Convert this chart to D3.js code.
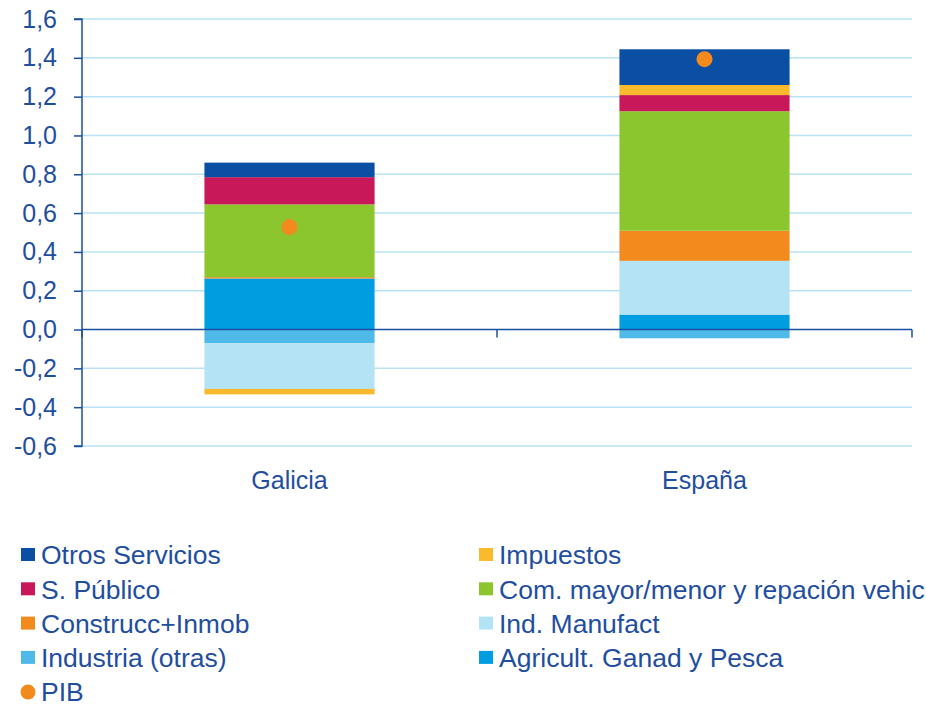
<!DOCTYPE html>
<html>
<head>
<meta charset="utf-8">
<script src="https://cdn.jsdelivr.net/npm/d3@7"></script>
<style>
  body { margin: 0; background: #fff; }
  text { font-family: "Liberation Sans", Arial, sans-serif; fill: #1f4e9f; }
</style>
</head>
<body>
<div id="chart"></div>
<script>
const regions = ["Galicia", "España"];
const sectors = ["Agricult. Ganad y Pesca", "Industria (otras)", "Ind. Manufact", "Construcc+Inmob",
                 "Com. mayor/menor y repación vehic", "S. Público", "Impuestos", "Otros Servicios"];
const galicia = [0.263, -0.07, -0.236, 0.007, 0.375, 0.14, -0.028, 0.075];
const espana  = [0.077, -0.045, 0.277, 0.155, 0.616, 0.083, 0.052, 0.184];
const pib = [0.528, 1.393];
const yTicks = [-0.6, -0.4, -0.2, 0, 0.2, 0.4, 0.6, 0.8, 1.0, 1.2, 1.4, 1.6];
const legendOrder = ["Otros Servicios", "Impuestos", "S. Público", "Com. mayor/menor y repación vehic",
                     "Construcc+Inmob", "Ind. Manufact", "Industria (otras)", "Agricult. Ganad y Pesca"];

const colors = {
  "Agricult. Ganad y Pesca": "#009de0",
  "Industria (otras)": "#4fb9ea",
  "Ind. Manufact": "#b5e3f6",
  "Construcc+Inmob": "#f28a1e",
  "Com. mayor/menor y repación vehic": "#8bc62f",
  "S. Público": "#c8185a",
  "Impuestos": "#fbb92c",
  "Otros Servicios": "#0a4fa3"
};

const W = 926, H = 707;
const margin = {top: 19, right: 14, bottom: 261, left: 82};
const width = W - margin.left - margin.right,
      height = H - margin.top - margin.bottom;

const svg = d3.select("#chart").append("svg")
  .attr("width", W).attr("height", H);
const g = svg.append("g").attr("transform", `translate(${margin.left},${margin.top})`);

const x = d3.scaleBand().domain(regions).range([0, width]).paddingInner(0.59).paddingOuter(0.295);
const xOuter = d3.scaleBand().domain(regions).range([0, width]);
const y = d3.scaleLinear().domain([-0.6, 1.6]).range([height, 0]);

// data table
const table = regions.map((r, i) => {
  const row = {region: r};
  const vals = i === 0 ? galicia : espana;
  sectors.forEach((s, j) => row[s] = vals[j]);
  return row;
});

// gridlines
g.selectAll(".grid").data(yTicks.filter(d => d !== 0)).join("line")
  .attr("x1", 0).attr("x2", width)
  .attr("y1", d => y(d)).attr("y2", d => y(d))
  .attr("stroke", "#b8e2f4").attr("stroke-width", 1.5);

// stacked bars
const series = d3.stack().keys(sectors).offset(d3.stackOffsetDiverging)(table);
g.selectAll(".layer").data(series).join("g")
  .attr("fill", d => colors[d.key])
  .selectAll("rect").data(d => d).join("rect")
  .attr("x", d => x(d.data.region))
  .attr("width", x.bandwidth())
  .attr("y", d => y(Math.max(d[0], d[1])))
  .attr("height", d => Math.abs(y(d[0]) - y(d[1])));

// y axis
const yAxis = g.append("g")
  .call(d3.axisLeft(y).tickValues(yTicks).tickSize(8).tickPadding(17)
    .tickFormat(d => d3.format(".1f")(d).replace(".", ",").replace("−", "-")));
yAxis.select(".domain").attr("stroke", "#1a4fa0").attr("stroke-width", 1.5)
  .attr("d", `M-8,${y(1.6)}H0V${y(-0.6)}H-8`);
yAxis.selectAll(".tick line").attr("stroke", "#1a4fa0").attr("stroke-width", 1.5);
yAxis.selectAll(".tick text").style("font-size", "25px").attr("fill", "#1f4e9f")
  .style("font-family", "Liberation Sans, Arial, sans-serif");

// zero line with category ticks
g.append("line").attr("x1", 0).attr("x2", width)
  .attr("y1", y(0)).attr("y2", y(0))
  .attr("stroke", "#1a4fa0").attr("stroke-width", 1.5);
const bounds = [0, ...regions.map(r => xOuter(r) + xOuter.bandwidth())];
g.selectAll(".xtick").data(bounds).join("line")
  .attr("x1", d => d).attr("x2", d => d)
  .attr("y1", y(0)).attr("y2", y(0) + 8)
  .attr("stroke", "#1a4fa0").attr("stroke-width", 1.5);

// category labels
g.selectAll(".cat").data(regions).join("text")
  .attr("x", d => x(d) + x.bandwidth() / 2)
  .attr("y", height + 43)
  .attr("text-anchor", "middle")
  .style("font-size", "25px")
  .text(d => d);

// PIB dots
g.selectAll(".pib").data(regions).join("circle")
  .attr("cx", d => x(d) + x.bandwidth() / 2)
  .attr("cy", (d, i) => y(pib[i]))
  .attr("r", 8)
  .attr("fill", "#f28a1e");

// legend
const leg = svg.append("g");
legendOrder.forEach((k, i) => {
  const col = i % 2, row = Math.floor(i / 2);
  const lx = col === 0 ? 21 : 479, ly = 555 + row * 34.3;
  leg.append("rect").attr("x", lx).attr("y", ly - 7).attr("width", 14).attr("height", 13)
    .attr("fill", colors[k]);
  leg.append("text").attr("x", lx + 20).attr("y", ly).attr("dy", "0.35em")
    .style("font-size", "26.5px").text(k);
});
leg.append("circle").attr("cx", 28).attr("cy", 692).attr("r", 7.5).attr("fill", "#f28a1e");
leg.append("text").attr("x", 41).attr("y", 692).attr("dy", "0.35em")
  .style("font-size", "26.5px").text("PIB");
</script>
</body>
</html>
